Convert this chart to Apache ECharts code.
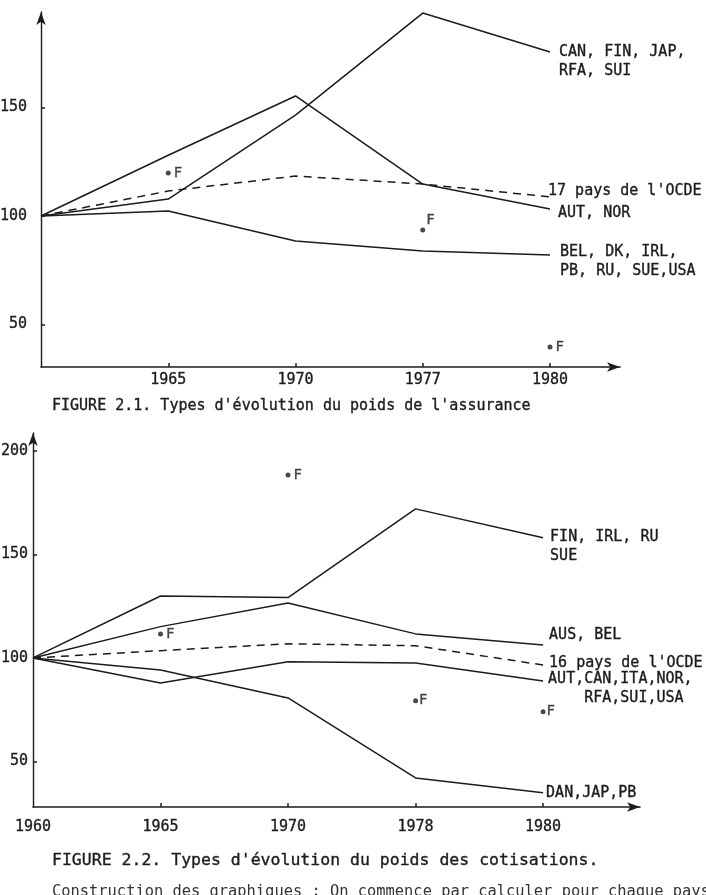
<!DOCTYPE html>
<html>
<head>
<meta charset="utf-8">
<script src="https://cdn.jsdelivr.net/npm/echarts@6/dist/echarts.min.js"></script>
<style>
  html, body { margin: 0; padding: 0; background: #fff; }
  #chart { width: 706px; height: 895px; }
</style>
</head>
<body>
<div id="chart"></div>
<script>
// figure 2.1 - poids de l'assurance
const years1 = ['', '1965', '1970', '1977', '1980'];
const canFin1 = [100, 107.8, 146.5, 193.5, 175.6];
const autNor1 = [100, 128, 155.3, 114.7, 103.2];
const ocde17 = [100, 111.5, 118.4, 114.7, 108.8];
const belDk1 = [100, 102.3, 88.5, 83.9, 82];
const france1 = [null, 119.8, null, 93.5, 39.6];
const yTicks1 = [50, 100, 150];

// figure 2.2 - poids des cotisations
const years2 = ['1960', '1965', '1970', '1978', '1980'];
const finIrl2 = [100, 129.9, 129.1, 171.9, 158];
const ausBel2 = [100, 115.1, 126.5, 111.6, 106.3];
const ocde16 = [100, 103.5, 106.8, 105.9, 96.6];
const autCan2 = [100, 87.9, 98.2, 97.6, 88.9];
const danJap2 = [100, 94.2, 80.7, 42.1, 35];
const france2 = [null, 111.6, 188.3, 79.4, 74.1];
const yTicks2 = [50, 100, 150, 200];

const FONT = '"DejaVu Sans Mono", "Liberation Mono", monospace';
const INK = '#1c1c1c';
// a thin outline makes the typewriter text a bit heavier, like the scan
const heavy = { textBorderColor: INK, textBorderWidth: 0.35 };

function pts(arr) {
  return arr.map((v, i) => [i, v]).filter(p => p[1] !== null);
}

function line(idx, data, text, offset, dashed) {
  return {
    type: 'line',
    xAxisIndex: idx, yAxisIndex: idx,
    data: pts(data),
    symbol: 'none',
    silent: true,
    lineStyle: { color: INK, width: 1.5, type: dashed ? [8, 6] : 'solid' },
    endLabel: Object.assign({
      show: true,
      formatter: text,
      color: INK,
      fontFamily: FONT,
      fontSize: 15,
      lineHeight: 19,
      distance: 4,
      offset: offset
    }, heavy)
  };
}

function frPoints(idx, data, labelPos) {
  return {
    type: 'scatter',
    xAxisIndex: idx, yAxisIndex: idx,
    symbolSize: 5,
    itemStyle: { color: INK },
    data: pts(data).map((p, k) => ({
      value: p,
      label: labelPos[k]
    })),
    label: Object.assign({
      show: true,
      formatter: 'F',
      position: 'right',
      distance: 3,
      color: INK,
      fontFamily: FONT,
      fontSize: 14
    }, heavy)
  };
}

function xAxis(idx, labels, max, margin) {
  return {
    type: 'value', gridIndex: idx, min: 0, max: max,
    axisLine: { lineStyle: { color: INK, width: 1.6 }, symbol: ['none', 'arrow'], symbolSize: [7, 13] },
    axisTick: { inside: true, length: 4, lineStyle: { color: INK, width: 1.5 }, customValues: [1, 2, 3, 4] },
    axisLabel: Object.assign({
      customValues: [0, 1, 2, 3, 4],
      formatter: v => labels[v] || '',
      color: INK, fontFamily: FONT, fontSize: 15, margin: margin
    }, heavy),
    splitLine: { show: false }
  };
}

function yAxis(idx, ticks, min, max, margin) {
  return {
    type: 'value', gridIndex: idx, min: min, max: max,
    axisLine: { show: true, lineStyle: { color: INK, width: 1.4 }, symbol: ['none', 'arrow'], symbolSize: [7, 13] },
    axisTick: { show: true, inside: true, length: 4, lineStyle: { color: INK, width: 1.5 }, customValues: ticks },
    axisLabel: Object.assign({
      customValues: ticks,
      color: INK, fontFamily: FONT, fontSize: 15, margin: margin
    }, heavy),
    splitLine: { show: false }
  };
}

const chart = echarts.init(document.getElementById('chart'));
chart.setOption({
  backgroundColor: '#ffffff',
  animation: false,
  title: [
    { text: "FIGURE 2.1. Types d'évolution du poids de l'assurance", left: 47, top: 394,
      textStyle: Object.assign({ fontFamily: FONT, fontSize: 15, fontWeight: 'normal', color: INK }, heavy) },
    { text: "FIGURE 2.2. Types d'évolution du poids des cotisations.", left: 47, top: 847,
      textStyle: Object.assign({ fontFamily: FONT, fontSize: 16.5, fontWeight: 'normal', color: INK }, heavy) },
    { text: "Construction des graphiques : On commence par calculer pour chaque pays", left: 47, top: 879,
      textStyle: { fontFamily: FONT, fontSize: 15.4, fontWeight: 'normal', color: '#333' } }
  ],
  grid: [
    { left: 41, top: 12, width: 579, height: 355, outerBoundsMode: 'none' },
    { left: 33, top: 433, width: 607, height: 374, outerBoundsMode: 'none' }
  ],
  xAxis: [
    xAxis(0, years1, 4.55, 6),
    xAxis(1, years2, 4.76, 13)
  ],
  yAxis: [
    yAxis(0, yTicks1, 30.4, 194, 14),
    yAxis(1, yTicks2, 28.1, 208.5, 5)
  ],
  series: [
    line(0, canFin1, 'CAN, FIN, JAP,\nRFA, SUI', [5, 9.5]),
    line(0, autNor1, 'AUT, NOR', [4, 4]),
    line(0, ocde17, "17 pays de l'OCDE", [-6, -6], true),
    line(0, belDk1, 'BEL, DK, IRL,\nPB, RU, SUE,USA', [6, 6.5]),
    frPoints(0, france1, [{}, { position: [6, -14] }, {}]),
    line(1, finIrl2, 'FIN, IRL, RU\nSUE', [3, 9]),
    line(1, ausBel2, 'AUS, BEL', [2, -10]),
    line(1, ocde16, "16 pays de l'OCDE", [2, -2], true),
    line(1, autCan2, 'AUT,CAN,ITA,NOR,\n    RFA,SUI,USA', [1, 7.5]),
    line(1, danJap2, 'DAN,JAP,PB', [-1, 0]),
    frPoints(1, france2, [{}, {}, { distance: 1 }, { distance: 1 }])
  ]
});
</script>
</body>
</html>
